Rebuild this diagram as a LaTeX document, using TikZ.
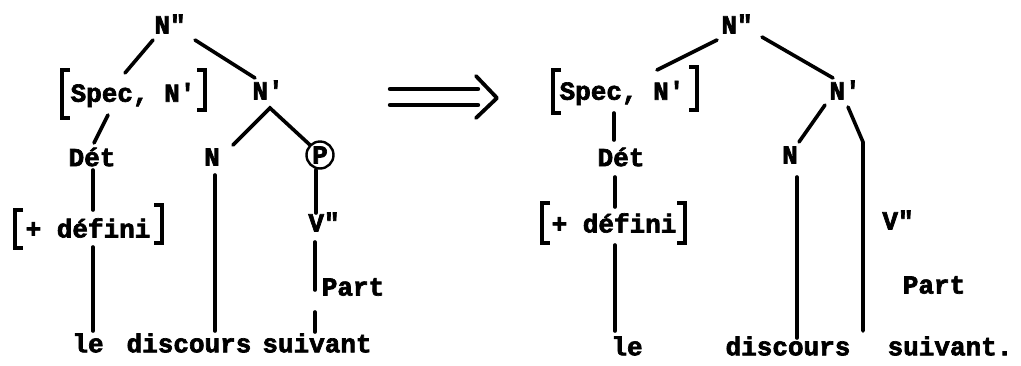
\documentclass[tikz,border=0pt]{standalone}
\usepackage{fontspec}
\newfontfamily\tw{Liberation Mono}[BoldFont=* Bold, BoldFeatures={FakeBold=2.6}]
\begin{document}
\begin{tikzpicture}[x=1pt,y=-1pt,
  lab/.style={font=\tw\bfseries\fontsize{26}{26}\selectfont, inner sep=0pt, text=black},
  ln/.style={line width=3.6pt, line cap=round, black},
  brk/.style={line width=3.4pt, black},
  circ/.style={lab, circle, draw, line width=2.4pt, minimum size=27pt}]
\useasboundingbox (0,0) rectangle (1021,365);
% ---------- left tree ----------
\node[lab] (Nq) at (170,24) {N"};
\node[lab] (spec) at (133,95) {Spec, N'};
\node[lab] (Np) at (268,90) {N'};
\node[lab] (det) at (92,157) {Dét};
\node[lab] (N) at (212,157) {N};
\node[circ] (P) at (320,155) {P};
\node[lab] (def) at (88,228) {+ défini};
\node[lab] (V) at (324,222) {V"};
\node[lab] (Part) at (353,287) {Part};
\node[lab] (le) at (88,343) {le};
\node[lab] (disc) at (189,343) {discours};
\node[lab] (suiv) at (317,343) {suivant};
% brackets
\draw[brk] ([shift={(-63,-25)}]spec.center) -- ([shift={(-71,-25)}]spec.center) -- ([shift={(-71,23)}]spec.center) -- ([shift={(-63,23)}]spec.center);
\draw[brk] ([shift={(64,-25)}]spec.center) -- ([shift={(72,-25)}]spec.center) -- ([shift={(72,15)}]spec.center) -- ([shift={(64,15)}]spec.center);
\draw[brk] ([shift={(-65,-18)}]def.center) -- ([shift={(-73,-18)}]def.center) -- ([shift={(-73,20)}]def.center) -- ([shift={(-65,20)}]def.center);
\draw[brk] ([shift={(66,-23)}]def.center) -- ([shift={(74,-23)}]def.center) -- ([shift={(74,15)}]def.center) -- ([shift={(66,15)}]def.center);
% connectors
\draw[ln] ([shift={(-17,16)}]Nq.center) -- ([shift={(-8,-22)}]spec.center);
\draw[ln] ([shift={(25,16)}]Nq.center) -- ([shift={(-13,-12)}]Np.center);
\draw[ln] ([shift={(-25,20)}]spec.center) -- ([shift={(2,-14)}]det.center);
\draw[ln] ([shift={(21,-12)}]N.center) -- ([shift={(2,18)}]Np.center) -- (P.135);
\draw[ln] ([shift={(-4,15)}]P.center) -- ([shift={(-8,-9)}]V.center);
\draw[ln] ([shift={(-9,20)}]V.center) -- ([shift={(-38,3)}]Part.center);
\draw[ln] ([shift={(-38,25)}]Part.center) -- ([shift={(-2,-11)}]suiv.center);
\draw[ln] ([shift={(1,13)}]det.center) -- ([shift={(5,-18)}]def.center);
\draw[ln] ([shift={(5,19)}]def.center) -- ([shift={(5,-12)}]le.center);
\draw[ln] ([shift={(3,18)}]N.center) -- ([shift={(26,-12)}]disc.center);
% ---------- arrow ----------
\coordinate (a1) at (390,89);
\coordinate (a2) at (478,89);
\coordinate (a3) at (390,105);
\coordinate (a4) at (478,105);
\draw[ln, line width=4.4pt] (a1) -- (a2);
\draw[ln, line width=4.4pt] (a3) -- (a4);
\coordinate (c1) at (476,76);
\coordinate (c2) at (497,98);
\coordinate (c3) at (476,118);
\draw[ln, line width=3.8pt, line join=round] (c1) -- (c2) -- (c3);
% ---------- right tree ----------
\node[lab] (Nq2) at (737,24) {N"};
\node[lab] (spec2) at (622,93) {Spec, N'};
\node[lab] (Np2) at (845,90) {N'};
\node[lab] (det2) at (621,157) {Dét};
\node[lab] (N2) at (790,155) {N};
\node[lab] (def2) at (614,223) {+ défini};
\node[lab] (V2) at (898,220) {V"};
\node[lab] (Part2) at (934,285) {Part};
\node[lab] (le2) at (627,346) {le};
\node[lab] (disc2) at (788,346) {discours};
\node[lab] (suiv2) at (950,346) {suivant.};
\coordinate (bend) at (863,142);
% brackets
\draw[brk] ([shift={(-61,-23)}]spec2.center) -- ([shift={(-69,-23)}]spec2.center) -- ([shift={(-69,20)}]spec2.center) -- ([shift={(-61,20)}]spec2.center);
\draw[brk] ([shift={(67,-26)}]spec2.center) -- ([shift={(75,-26)}]spec2.center) -- ([shift={(75,17)}]spec2.center) -- ([shift={(67,17)}]spec2.center);
\draw[brk] ([shift={(-64,-20)}]def2.center) -- ([shift={(-72,-20)}]def2.center) -- ([shift={(-72,20)}]def2.center) -- ([shift={(-64,20)}]def2.center);
\draw[brk] ([shift={(63,-20)}]def2.center) -- ([shift={(71,-20)}]def2.center) -- ([shift={(71,20)}]def2.center) -- ([shift={(63,20)}]def2.center);
% connectors
\draw[ln] ([shift={(-20,16)}]Nq2.center) -- ([shift={(35,-23)}]spec2.center);
\draw[ln] ([shift={(25,13)}]Nq2.center) -- ([shift={(-12,-12)}]Np2.center);
\draw[ln] ([shift={(-8,20)}]spec2.center) -- ([shift={(-7,-17)}]det2.center);
\draw[ln] ([shift={(-6,20)}]det2.center) -- ([shift={(1,-16)}]def2.center);
\draw[ln] ([shift={(1,22)}]def2.center) -- ([shift={(-12,-15)}]le2.center);
\draw[ln] ([shift={(-20,15)}]Np2.center) -- ([shift={(9,-13)}]N2.center);
\draw[ln] ([shift={(7,22)}]N2.center) -- ([shift={(9,-8)}]disc2.center);
\draw[ln] ([shift={(3,17)}]Np2.center) -- (bend) -- ([shift={(-87,-15)}]suiv2.center);
\end{tikzpicture}
\end{document}
